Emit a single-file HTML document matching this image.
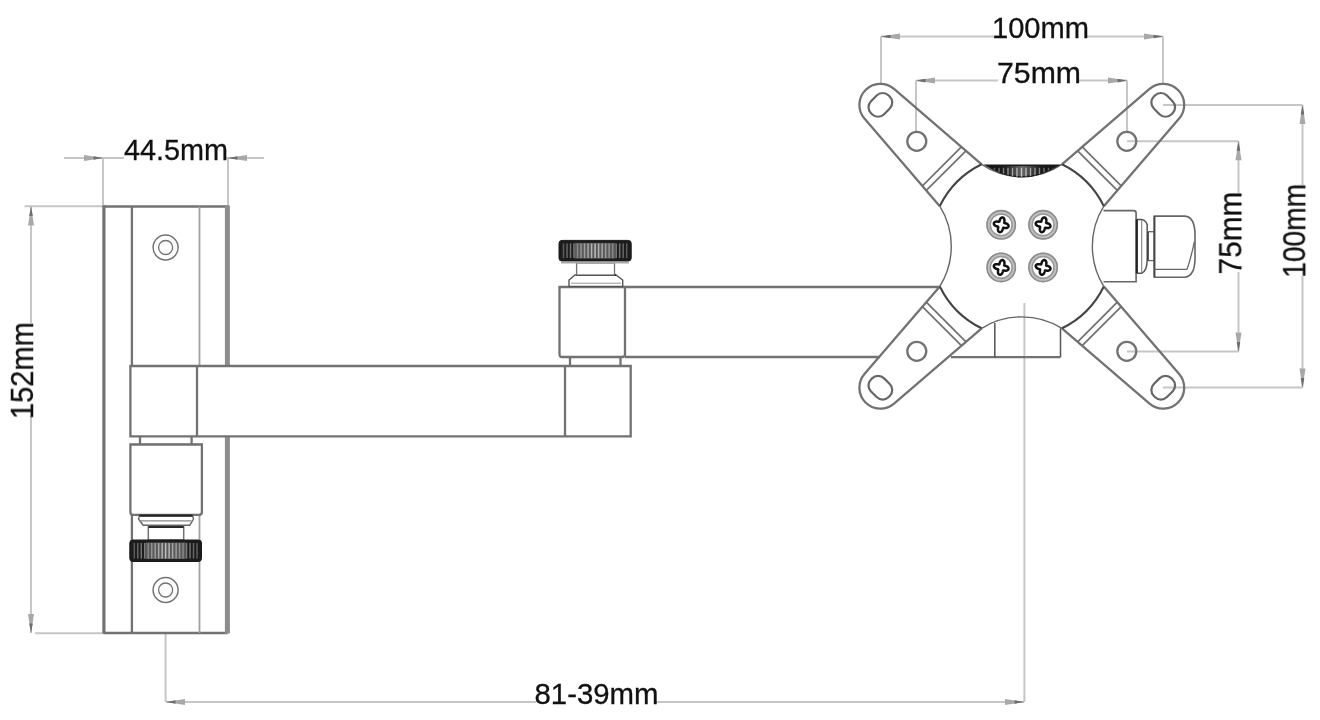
<!DOCTYPE html>
<html><head><meta charset="utf-8"><style>
html,body{margin:0;padding:0;background:#fff;}
svg{display:block;}
text{will-change:transform;}
</style></head><body>
<svg width="1320" height="720" viewBox="0 0 1320 720">
<rect width="1320" height="720" fill="#fff"/>
<line x1="64" y1="158" x2="264" y2="158" stroke="#c6c6c6" stroke-width="2.0"/>
<line x1="103" y1="158" x2="103" y2="206.5" stroke="#c6c6c6" stroke-width="2.0"/>
<line x1="228" y1="158" x2="228" y2="206.5" stroke="#c6c6c6" stroke-width="2.0"/>
<polygon points="103,158 84,161 84,155" fill="#a8a8a8"/>
<polygon points="103,158 93.5,159.8 93.5,156.2" fill="#6e6e6e"/>
<polygon points="228,158 247,155 247,161" fill="#a8a8a8"/>
<polygon points="228,158 237.5,156.2 237.5,159.8" fill="#6e6e6e"/>
<line x1="24.5" y1="206.3" x2="103" y2="206.3" stroke="#c6c6c6" stroke-width="2.0"/>
<line x1="35" y1="633.2" x2="103" y2="633.2" stroke="#c6c6c6" stroke-width="2.0"/>
<line x1="31" y1="206.5" x2="31" y2="633" stroke="#c6c6c6" stroke-width="2.0"/>
<polygon points="31,206.5 34,225.5 28,225.5" fill="#a8a8a8"/>
<polygon points="31,206.5 32.8,216 29.2,216" fill="#6e6e6e"/>
<polygon points="31,633 28,614 34,614" fill="#a8a8a8"/>
<polygon points="31,633 29.2,623.5 32.8,623.5" fill="#6e6e6e"/>
<line x1="165.6" y1="633" x2="165.6" y2="702" stroke="#c6c6c6" stroke-width="2.0"/>
<line x1="1024.4" y1="303" x2="1024.4" y2="702" stroke="#c6c6c6" stroke-width="2.0"/>
<line x1="166" y1="702" x2="1024" y2="702" stroke="#c6c6c6" stroke-width="2.0"/>
<polygon points="166,702 185,699 185,705" fill="#a8a8a8"/>
<polygon points="166,702 175.5,700.2 175.5,703.8" fill="#6e6e6e"/>
<polygon points="1024,702 1005,705 1005,699" fill="#a8a8a8"/>
<polygon points="1024,702 1014.5,703.8 1014.5,700.2" fill="#6e6e6e"/>
<line x1="881" y1="36.5" x2="1163" y2="36.5" stroke="#c6c6c6" stroke-width="2.0"/>
<line x1="881" y1="36.5" x2="881" y2="83.5" stroke="#c6c6c6" stroke-width="2.0"/>
<line x1="1163" y1="36.5" x2="1163" y2="84" stroke="#c6c6c6" stroke-width="2.0"/>
<polygon points="881,36.5 900,33.5 900,39.5" fill="#a8a8a8"/>
<polygon points="881,36.5 890.5,34.7 890.5,38.3" fill="#6e6e6e"/>
<polygon points="1163,36.5 1144,39.5 1144,33.5" fill="#a8a8a8"/>
<polygon points="1163,36.5 1153.5,38.3 1153.5,34.7" fill="#6e6e6e"/>
<line x1="916" y1="80.6" x2="1127" y2="80.6" stroke="#c6c6c6" stroke-width="2.0"/>
<line x1="916" y1="80.6" x2="916" y2="132.5" stroke="#c6c6c6" stroke-width="2.0"/>
<line x1="1127" y1="80.6" x2="1127" y2="132.5" stroke="#c6c6c6" stroke-width="2.0"/>
<polygon points="916,80.6 935,77.6 935,83.6" fill="#a8a8a8"/>
<polygon points="916,80.6 925.5,78.8 925.5,82.4" fill="#6e6e6e"/>
<polygon points="1127,80.6 1108,83.6 1108,77.6" fill="#a8a8a8"/>
<polygon points="1127,80.6 1117.5,82.4 1117.5,78.8" fill="#6e6e6e"/>
<line x1="1127" y1="141.2" x2="1238.5" y2="141.2" stroke="#c6c6c6" stroke-width="2.0"/>
<line x1="1127" y1="351.4" x2="1238.5" y2="351.4" stroke="#c6c6c6" stroke-width="2.0"/>
<line x1="1238.5" y1="141.2" x2="1238.5" y2="351.4" stroke="#c6c6c6" stroke-width="2.0"/>
<polygon points="1238.5,141.2 1241.5,160.2 1235.5,160.2" fill="#a8a8a8"/>
<polygon points="1238.5,141.2 1240.3,150.7 1236.7,150.7" fill="#6e6e6e"/>
<polygon points="1238.5,351.4 1235.5,332.4 1241.5,332.4" fill="#a8a8a8"/>
<polygon points="1238.5,351.4 1236.7,341.9 1240.3,341.9" fill="#6e6e6e"/>
<line x1="1163" y1="105" x2="1302.5" y2="105" stroke="#c6c6c6" stroke-width="2.0"/>
<line x1="1163" y1="387.6" x2="1302.5" y2="387.6" stroke="#c6c6c6" stroke-width="2.0"/>
<line x1="1302.5" y1="105" x2="1302.5" y2="387.6" stroke="#c6c6c6" stroke-width="2.0"/>
<polygon points="1302.5,105 1305.5,124 1299.5,124" fill="#a8a8a8"/>
<polygon points="1302.5,105 1304.3,114.5 1300.7,114.5" fill="#6e6e6e"/>
<polygon points="1302.5,387.6 1299.5,368.6 1305.5,368.6" fill="#a8a8a8"/>
<polygon points="1302.5,387.6 1300.7,378.1 1304.3,378.1" fill="#6e6e6e"/>
<rect x="103.5" y="206" width="124" height="427" fill="#fff" stroke="none"/>
<line x1="103.5" y1="206.5" x2="227.5" y2="206.5" stroke="#727272" stroke-width="2.3"/>
<line x1="103.5" y1="633" x2="227.5" y2="633" stroke="#727272" stroke-width="2.3"/>
<line x1="103.9" y1="205.5" x2="103.9" y2="633.5" stroke="#727272" stroke-width="3.2"/>
<line x1="227.4" y1="205.5" x2="227.4" y2="633.5" stroke="#8c8c8c" stroke-width="5.0"/>
<line x1="131.9" y1="206.5" x2="131.9" y2="366" stroke="#727272" stroke-width="2.3"/>
<line x1="131.9" y1="515" x2="131.9" y2="633" stroke="#727272" stroke-width="2.3"/>
<line x1="199.5" y1="206.5" x2="199.5" y2="366" stroke="#a0a0a0" stroke-width="1.8"/>
<line x1="199.5" y1="515" x2="199.5" y2="633" stroke="#a0a0a0" stroke-width="1.8"/>
<circle cx="165.6" cy="247.5" r="12.5" fill="none" stroke="#727272" stroke-width="1.5"/>
<circle cx="165.6" cy="247.5" r="7" fill="none" stroke="#727272" stroke-width="1.3"/>
<circle cx="165.6" cy="590" r="12.5" fill="none" stroke="#727272" stroke-width="1.5"/>
<circle cx="165.6" cy="590" r="7" fill="none" stroke="#727272" stroke-width="1.3"/>
<path d="M130.4,366 H630.7 V436.3 H130.4 Z" fill="#fff" stroke="#727272" stroke-width="2.3"/>
<line x1="197" y1="366" x2="197" y2="436.3" stroke="#727272" stroke-width="2.3"/>
<line x1="565" y1="366" x2="565" y2="436.3" stroke="#727272" stroke-width="2.3"/>
<line x1="130.4" y1="444.5" x2="201.9" y2="444.5" stroke="#777" stroke-width="1.3"/>
<line x1="140" y1="436.3" x2="140" y2="444.5" stroke="#727272" stroke-width="2.3"/>
<line x1="191.6" y1="436.3" x2="191.6" y2="444.5" stroke="#727272" stroke-width="2.3"/>
<path d="M130.4,444.5 H201.9 V512 Q201.9,514.8 199,514.8 H133 Q130.4,514.8 130.4,512 Z" fill="#fff" stroke="#727272" stroke-width="2.3"/>
<path d="M139.4,515.6 H192.6 L193.5,519 L189.8,525.2 H143.2 L138.5,519 Z" fill="#fff" stroke="#666" stroke-width="1.4"/>
<line x1="139.4" y1="515.6" x2="192.6" y2="515.6" stroke="#222" stroke-width="2.2"/>
<line x1="140" y1="520.8" x2="191.5" y2="520.8" stroke="#8a8a8a" stroke-width="1.3"/>
<rect x="148.3" y="527" width="35.4" height="13" fill="#fff" stroke="#727272" stroke-width="1.5"/>
<line x1="148.3" y1="527" x2="183.7" y2="527" stroke="#2a2a2a" stroke-width="2.2"/>
<rect x="129.8" y="540" width="71.7" height="21.5" rx="3" fill="#1c1c1c" stroke="#1a1a1a" stroke-width="1"/>
<rect x="145.57" y="542.5" width="40.15" height="16.5" fill="#5a5a5a"/>
<line x1="134.3" y1="543" x2="134.3" y2="558.5" stroke="rgb(93,93,93)" stroke-width="1.5"/>
<line x1="137.78" y1="543" x2="137.78" y2="558.5" stroke="rgb(104,104,104)" stroke-width="1.5"/>
<line x1="141.27" y1="543" x2="141.27" y2="558.5" stroke="rgb(115,115,115)" stroke-width="1.5"/>
<line x1="144.75" y1="543" x2="144.75" y2="558.5" stroke="rgb(125,125,125)" stroke-width="1.5"/>
<line x1="148.23" y1="543" x2="148.23" y2="558.5" stroke="rgb(136,136,136)" stroke-width="1.5"/>
<line x1="151.72" y1="543" x2="151.72" y2="558.5" stroke="rgb(147,147,147)" stroke-width="1.5"/>
<line x1="155.2" y1="543" x2="155.2" y2="558.5" stroke="rgb(157,157,157)" stroke-width="1.5"/>
<line x1="158.68" y1="543" x2="158.68" y2="558.5" stroke="rgb(168,168,168)" stroke-width="1.5"/>
<line x1="162.17" y1="543" x2="162.17" y2="558.5" stroke="rgb(179,179,179)" stroke-width="1.5"/>
<line x1="165.65" y1="543" x2="165.65" y2="558.5" stroke="rgb(190,190,190)" stroke-width="1.5"/>
<line x1="169.13" y1="543" x2="169.13" y2="558.5" stroke="rgb(179,179,179)" stroke-width="1.5"/>
<line x1="172.62" y1="543" x2="172.62" y2="558.5" stroke="rgb(168,168,168)" stroke-width="1.5"/>
<line x1="176.1" y1="543" x2="176.1" y2="558.5" stroke="rgb(157,157,157)" stroke-width="1.5"/>
<line x1="179.58" y1="543" x2="179.58" y2="558.5" stroke="rgb(147,147,147)" stroke-width="1.5"/>
<line x1="183.07" y1="543" x2="183.07" y2="558.5" stroke="rgb(136,136,136)" stroke-width="1.5"/>
<line x1="186.55" y1="543" x2="186.55" y2="558.5" stroke="rgb(125,125,125)" stroke-width="1.5"/>
<line x1="190.03" y1="543" x2="190.03" y2="558.5" stroke="rgb(115,115,115)" stroke-width="1.5"/>
<line x1="193.52" y1="543" x2="193.52" y2="558.5" stroke="rgb(104,104,104)" stroke-width="1.5"/>
<line x1="197" y1="543" x2="197" y2="558.5" stroke="rgb(93,93,93)" stroke-width="1.5"/>
<path d="M625,287 H940 M625,357 H880 M951,357.2 H1060" fill="none" stroke="#727272" stroke-width="2.3"/>
<path d="M559.5,287 H625 V354.5 Q625,357 622,357 H562 Q559.5,357 559.5,354.5 Z" fill="#fff" stroke="#727272" stroke-width="2.3"/>
<line x1="570" y1="357" x2="570" y2="366" stroke="#727272" stroke-width="2.3"/>
<line x1="620.5" y1="357" x2="620.5" y2="366" stroke="#727272" stroke-width="2.3"/>
<path d="M569,286.4 V280 L575,275 H616 L622.7,280 V286.4 Z" fill="#fff" stroke="#555" stroke-width="1.4"/>
<line x1="571" y1="283.2" x2="621" y2="283.2" stroke="#999" stroke-width="1.0"/>
<line x1="576" y1="275" x2="616" y2="275" stroke="#222" stroke-width="2.0"/>
<rect x="576.6" y="263" width="37.9" height="12" fill="#fff" stroke="#727272" stroke-width="1.3"/>
<rect x="559" y="240.4" width="72.2" height="20.7" rx="3" fill="#1c1c1c" stroke="#1a1a1a" stroke-width="1"/>
<rect x="574.88" y="242.9" width="40.43" height="15.7" fill="#5a5a5a"/>
<line x1="563.5" y1="243.4" x2="563.5" y2="258.1" stroke="rgb(93,93,93)" stroke-width="1.5"/>
<line x1="567.01" y1="243.4" x2="567.01" y2="258.1" stroke="rgb(104,104,104)" stroke-width="1.5"/>
<line x1="570.52" y1="243.4" x2="570.52" y2="258.1" stroke="rgb(115,115,115)" stroke-width="1.5"/>
<line x1="574.03" y1="243.4" x2="574.03" y2="258.1" stroke="rgb(125,125,125)" stroke-width="1.5"/>
<line x1="577.54" y1="243.4" x2="577.54" y2="258.1" stroke="rgb(136,136,136)" stroke-width="1.5"/>
<line x1="581.06" y1="243.4" x2="581.06" y2="258.1" stroke="rgb(147,147,147)" stroke-width="1.5"/>
<line x1="584.57" y1="243.4" x2="584.57" y2="258.1" stroke="rgb(157,157,157)" stroke-width="1.5"/>
<line x1="588.08" y1="243.4" x2="588.08" y2="258.1" stroke="rgb(168,168,168)" stroke-width="1.5"/>
<line x1="591.59" y1="243.4" x2="591.59" y2="258.1" stroke="rgb(179,179,179)" stroke-width="1.5"/>
<line x1="595.1" y1="243.4" x2="595.1" y2="258.1" stroke="rgb(190,190,190)" stroke-width="1.5"/>
<line x1="598.61" y1="243.4" x2="598.61" y2="258.1" stroke="rgb(179,179,179)" stroke-width="1.5"/>
<line x1="602.12" y1="243.4" x2="602.12" y2="258.1" stroke="rgb(168,168,168)" stroke-width="1.5"/>
<line x1="605.63" y1="243.4" x2="605.63" y2="258.1" stroke="rgb(157,157,157)" stroke-width="1.5"/>
<line x1="609.14" y1="243.4" x2="609.14" y2="258.1" stroke="rgb(147,147,147)" stroke-width="1.5"/>
<line x1="612.66" y1="243.4" x2="612.66" y2="258.1" stroke="rgb(136,136,136)" stroke-width="1.5"/>
<line x1="616.17" y1="243.4" x2="616.17" y2="258.1" stroke="rgb(125,125,125)" stroke-width="1.5"/>
<line x1="619.68" y1="243.4" x2="619.68" y2="258.1" stroke="rgb(115,115,115)" stroke-width="1.5"/>
<line x1="623.19" y1="243.4" x2="623.19" y2="258.1" stroke="rgb(104,104,104)" stroke-width="1.5"/>
<line x1="626.7" y1="243.4" x2="626.7" y2="258.1" stroke="rgb(93,93,93)" stroke-width="1.5"/>
<line x1="561" y1="262.5" x2="629" y2="262.5" stroke="#aaa" stroke-width="2.0"/>
<path d="M939.8,206.16 L864.45,118.56 A21.0,21.0 0 0 1 894.06,88.95 L981.66,164.3" fill="none" stroke="#727272" stroke-width="2.3"/>
<path d="M981.66,164.3 A91.3,91.3 0 0 0 939.8,206.16" fill="none" stroke="#444" stroke-width="2.1"/>
<line x1="926.31" y1="190.47" x2="965.97" y2="150.81" stroke="#707070" stroke-width="1.7"/>
<line x1="922.39" y1="185.9" x2="961.4" y2="146.89" stroke="#707070" stroke-width="1.7"/>
<circle cx="916.79" cy="141.29" r="9.5" fill="none" stroke="#727272" stroke-width="2.3"/>
<rect x="871.13" y="92.38" width="18.5" height="25" rx="8.5" ry="8.5" fill="none" stroke="#666" stroke-width="2.2" transform="rotate(225 880.38 104.88)"/>
<path d="M1061.94,164.3 L1149.54,88.95 A21.0,21.0 0 0 1 1179.15,118.56 L1103.8,206.16" fill="none" stroke="#727272" stroke-width="2.3"/>
<path d="M1103.8,206.16 A91.3,91.3 0 0 0 1061.94,164.3" fill="none" stroke="#444" stroke-width="2.1"/>
<line x1="1077.63" y1="150.81" x2="1117.29" y2="190.47" stroke="#707070" stroke-width="1.7"/>
<line x1="1082.2" y1="146.89" x2="1121.21" y2="185.9" stroke="#707070" stroke-width="1.7"/>
<circle cx="1126.81" cy="141.29" r="9.5" fill="none" stroke="#727272" stroke-width="2.3"/>
<rect x="1153.97" y="92.38" width="18.5" height="25" rx="8.5" ry="8.5" fill="none" stroke="#666" stroke-width="2.2" transform="rotate(315 1163.22 104.88)"/>
<path d="M1103.8,286.44 L1179.15,374.04 A21.0,21.0 0 0 1 1149.54,403.65 L1061.94,328.3" fill="none" stroke="#727272" stroke-width="2.3"/>
<path d="M1061.94,328.3 A91.3,91.3 0 0 0 1103.8,286.44" fill="none" stroke="#444" stroke-width="2.1"/>
<line x1="1117.29" y1="302.13" x2="1077.63" y2="341.79" stroke="#707070" stroke-width="1.7"/>
<line x1="1121.21" y1="306.7" x2="1082.2" y2="345.71" stroke="#707070" stroke-width="1.7"/>
<circle cx="1126.81" cy="351.31" r="9.5" fill="none" stroke="#727272" stroke-width="2.3"/>
<rect x="1153.97" y="375.22" width="18.5" height="25" rx="8.5" ry="8.5" fill="none" stroke="#666" stroke-width="2.2" transform="rotate(45 1163.22 387.72)"/>
<path d="M981.66,328.3 L894.06,403.65 A21.0,21.0 0 0 1 864.45,374.04 L939.8,286.44" fill="none" stroke="#727272" stroke-width="2.3"/>
<path d="M939.8,286.44 A91.3,91.3 0 0 0 981.66,328.3" fill="none" stroke="#444" stroke-width="2.1"/>
<line x1="965.97" y1="341.79" x2="926.31" y2="302.13" stroke="#707070" stroke-width="1.7"/>
<line x1="961.4" y1="345.71" x2="922.39" y2="306.7" stroke="#707070" stroke-width="1.7"/>
<circle cx="916.79" cy="351.31" r="9.5" fill="none" stroke="#727272" stroke-width="2.3"/>
<rect x="871.13" y="375.22" width="18.5" height="25" rx="8.5" ry="8.5" fill="none" stroke="#666" stroke-width="2.2" transform="rotate(135 880.38 387.72)"/>
<path d="M939.8,286.44 A76.0,76.0 0 0 0 939.8,206.16" fill="none" stroke="#666" stroke-width="1.4"/>
<path d="M1061.94,328.3 A76.0,76.0 0 0 0 981.66,328.3" fill="none" stroke="#666" stroke-width="1.4"/>
<path d="M1103.8,206.16 A76.0,76.0 0 0 0 1103.8,286.44" fill="none" stroke="#666" stroke-width="1.4"/>
<path d="M981.66,164.3 A72,72 0 0 0 1061.94,164.3" fill="none" stroke="#666" stroke-width="1.4"/>
<defs><clipPath id="cc"><path d="M986,165.2 L1058.5,165.2 Q1022,188.5 986,165.2 Z"/></clipPath><linearGradient id="cg" x1="0" x2="1" y1="0" y2="0"><stop offset="0" stop-color="#111"/><stop offset="0.25" stop-color="#1a1a1a"/><stop offset="0.5" stop-color="#666"/><stop offset="0.75" stop-color="#1a1a1a"/><stop offset="1" stop-color="#111"/></linearGradient></defs>
<path d="M986,165.2 L1058.5,165.2 Q1022,188.5 986,165.2 Z" fill="url(#cg)" stroke="#1a1a1a" stroke-width="1.4"/>
<g clip-path="url(#cc)">
<line x1="990" y1="167.8" x2="990" y2="180" stroke="rgb(80,80,80)" stroke-width="1.4"/>
<line x1="994.5" y1="167.8" x2="994.5" y2="180" stroke="rgb(96,96,96)" stroke-width="1.4"/>
<line x1="999" y1="167.8" x2="999" y2="180" stroke="rgb(113,113,113)" stroke-width="1.4"/>
<line x1="1003.5" y1="167.8" x2="1003.5" y2="180" stroke="rgb(130,130,130)" stroke-width="1.4"/>
<line x1="1008" y1="167.8" x2="1008" y2="180" stroke="rgb(147,147,147)" stroke-width="1.4"/>
<line x1="1012.5" y1="167.8" x2="1012.5" y2="180" stroke="rgb(164,164,164)" stroke-width="1.4"/>
<line x1="1017" y1="167.8" x2="1017" y2="180" stroke="rgb(181,181,181)" stroke-width="1.4"/>
<line x1="1021.5" y1="167.8" x2="1021.5" y2="180" stroke="rgb(198,198,198)" stroke-width="1.4"/>
<line x1="1026" y1="167.8" x2="1026" y2="180" stroke="rgb(185,185,185)" stroke-width="1.4"/>
<line x1="1030.5" y1="167.8" x2="1030.5" y2="180" stroke="rgb(168,168,168)" stroke-width="1.4"/>
<line x1="1035" y1="167.8" x2="1035" y2="180" stroke="rgb(151,151,151)" stroke-width="1.4"/>
<line x1="1039.5" y1="167.8" x2="1039.5" y2="180" stroke="rgb(134,134,134)" stroke-width="1.4"/>
<line x1="1044" y1="167.8" x2="1044" y2="180" stroke="rgb(117,117,117)" stroke-width="1.4"/>
<line x1="1048.5" y1="167.8" x2="1048.5" y2="180" stroke="rgb(100,100,100)" stroke-width="1.4"/>
<line x1="1053" y1="167.8" x2="1053" y2="180" stroke="rgb(83,83,83)" stroke-width="1.4"/>
</g>
<path d="M994.8,322.9 V357.4 M1060.5,328.3 V357.4" fill="none" stroke="#555" stroke-width="1.5"/>
<path d="M1103.5,210.6 H1133.5 Q1136.1,210.6 1136.1,213 V281.7 H1103.5" fill="#fff" stroke="#666" stroke-width="1.6"/>
<path d="M1136.7,219.4 H1141.7 Q1147.2,221 1147.2,226 V259 Q1147.2,271 1141.7,273.3 H1136.7" fill="#fff" stroke="#555" stroke-width="1.5"/>
<line x1="1136.8" y1="219.4" x2="1136.8" y2="273.3" stroke="#222" stroke-width="2.2"/>
<line x1="1141.7" y1="220" x2="1141.7" y2="273" stroke="#8a8a8a" stroke-width="1.2"/>
<rect x="1147.8" y="231.7" width="6.6" height="28.9" fill="#fff" stroke="#666" stroke-width="1.3"/>
<line x1="1147.9" y1="231.7" x2="1147.9" y2="260.6" stroke="#444" stroke-width="1.8"/>
<path d="M1154.4,216.1 H1185 Q1195,217 1195,235 V258 Q1195,276 1185,277.2 H1154.4 Z" fill="#fff" stroke="#666" stroke-width="1.6"/>
<line x1="1154.4" y1="216.1" x2="1154.4" y2="277.2" stroke="#444" stroke-width="1.8"/>
<line x1="1154.4" y1="269.4" x2="1187.2" y2="269.4" stroke="#666" stroke-width="1.4"/>
<path d="M1194.4,241.7 Q1191,258 1187,269.4" fill="none" stroke="#666" stroke-width="1.3"/>
<circle cx="1001.2" cy="224.8" r="12.6" fill="#fff" stroke="#c0c0c0" stroke-width="4.4"/>
<circle cx="1001.2" cy="224.8" r="14.2" fill="none" stroke="#8c8c8c" stroke-width="1.6"/>
<circle cx="1001.2" cy="224.8" r="10.9" fill="none" stroke="#999" stroke-width="1.5"/>
<path d="M1008.14,224.8 L1008.42,225.27 L1008.56,225.77 L1008.55,226.26 L1008.41,226.73 L1008.13,227.15 L1007.73,227.51 L1007.24,227.78 L1006.67,227.96 L1006.07,228.06 L1005.46,228.07 L1004.88,228.03 L1004.34,227.94 L1003.88,227.85 L1003.49,227.79 L1003.2,227.8 L1003.04,227.99 L1002.94,228.32 L1002.84,228.76 L1002.71,229.26 L1002.54,229.8 L1002.31,230.36 L1002,230.89 L1001.63,231.36 L1001.2,231.74 L1000.73,232.02 L1000.23,232.16 L999.74,232.15 L999.27,232.01 L998.85,231.73 L998.49,231.33 L998.22,230.84 L998.04,230.27 L997.94,229.67 L997.93,229.06 L997.97,228.48 L998.06,227.94 L998.15,227.48 L998.21,227.09 L998.2,226.8 L998.01,226.64 L997.68,226.54 L997.24,226.44 L996.74,226.31 L996.2,226.14 L995.64,225.91 L995.11,225.6 L994.64,225.23 L994.26,224.8 L993.98,224.33 L993.84,223.83 L993.85,223.34 L993.99,222.87 L994.27,222.45 L994.67,222.09 L995.16,221.82 L995.73,221.64 L996.33,221.54 L996.94,221.53 L997.52,221.57 L998.06,221.66 L998.52,221.75 L998.91,221.81 L999.2,221.8 L999.36,221.61 L999.46,221.28 L999.56,220.84 L999.69,220.34 L999.86,219.8 L1000.09,219.24 L1000.4,218.71 L1000.77,218.24 L1001.2,217.86 L1001.67,217.58 L1002.17,217.44 L1002.66,217.45 L1003.13,217.59 L1003.55,217.87 L1003.91,218.27 L1004.18,218.76 L1004.36,219.33 L1004.46,219.93 L1004.47,220.54 L1004.43,221.12 L1004.34,221.66 L1004.25,222.12 L1004.19,222.51 L1004.2,222.8 L1004.39,222.96 L1004.72,223.06 L1005.16,223.16 L1005.66,223.29 L1006.2,223.46 L1006.76,223.69 L1007.29,224 L1007.76,224.37Z" fill="#fff" stroke="#111" stroke-width="2.5" stroke-linejoin="round"/>
<circle cx="1001.2" cy="267.4" r="12.6" fill="#fff" stroke="#c0c0c0" stroke-width="4.4"/>
<circle cx="1001.2" cy="267.4" r="14.2" fill="none" stroke="#8c8c8c" stroke-width="1.6"/>
<circle cx="1001.2" cy="267.4" r="10.9" fill="none" stroke="#999" stroke-width="1.5"/>
<path d="M1008.14,267.4 L1008.42,267.87 L1008.56,268.37 L1008.55,268.86 L1008.41,269.33 L1008.13,269.75 L1007.73,270.11 L1007.24,270.38 L1006.67,270.56 L1006.07,270.66 L1005.46,270.67 L1004.88,270.63 L1004.34,270.54 L1003.88,270.45 L1003.49,270.39 L1003.2,270.4 L1003.04,270.59 L1002.94,270.92 L1002.84,271.36 L1002.71,271.86 L1002.54,272.4 L1002.31,272.96 L1002,273.49 L1001.63,273.96 L1001.2,274.34 L1000.73,274.62 L1000.23,274.76 L999.74,274.75 L999.27,274.61 L998.85,274.33 L998.49,273.93 L998.22,273.44 L998.04,272.87 L997.94,272.27 L997.93,271.66 L997.97,271.08 L998.06,270.54 L998.15,270.08 L998.21,269.69 L998.2,269.4 L998.01,269.24 L997.68,269.14 L997.24,269.04 L996.74,268.91 L996.2,268.74 L995.64,268.51 L995.11,268.2 L994.64,267.83 L994.26,267.4 L993.98,266.93 L993.84,266.43 L993.85,265.94 L993.99,265.47 L994.27,265.05 L994.67,264.69 L995.16,264.42 L995.73,264.24 L996.33,264.14 L996.94,264.13 L997.52,264.17 L998.06,264.26 L998.52,264.35 L998.91,264.41 L999.2,264.4 L999.36,264.21 L999.46,263.88 L999.56,263.44 L999.69,262.94 L999.86,262.4 L1000.09,261.84 L1000.4,261.31 L1000.77,260.84 L1001.2,260.46 L1001.67,260.18 L1002.17,260.04 L1002.66,260.05 L1003.13,260.19 L1003.55,260.47 L1003.91,260.87 L1004.18,261.36 L1004.36,261.93 L1004.46,262.53 L1004.47,263.14 L1004.43,263.72 L1004.34,264.26 L1004.25,264.72 L1004.19,265.11 L1004.2,265.4 L1004.39,265.56 L1004.72,265.66 L1005.16,265.76 L1005.66,265.89 L1006.2,266.06 L1006.76,266.29 L1007.29,266.6 L1007.76,266.97Z" fill="#fff" stroke="#111" stroke-width="2.5" stroke-linejoin="round"/>
<circle cx="1043.1" cy="224.8" r="12.6" fill="#fff" stroke="#c0c0c0" stroke-width="4.4"/>
<circle cx="1043.1" cy="224.8" r="14.2" fill="none" stroke="#8c8c8c" stroke-width="1.6"/>
<circle cx="1043.1" cy="224.8" r="10.9" fill="none" stroke="#999" stroke-width="1.5"/>
<path d="M1050.04,224.8 L1050.32,225.27 L1050.46,225.77 L1050.45,226.26 L1050.31,226.73 L1050.03,227.15 L1049.63,227.51 L1049.14,227.78 L1048.57,227.96 L1047.97,228.06 L1047.36,228.07 L1046.78,228.03 L1046.24,227.94 L1045.78,227.85 L1045.39,227.79 L1045.1,227.8 L1044.94,227.99 L1044.84,228.32 L1044.74,228.76 L1044.61,229.26 L1044.44,229.8 L1044.21,230.36 L1043.9,230.89 L1043.53,231.36 L1043.1,231.74 L1042.63,232.02 L1042.13,232.16 L1041.64,232.15 L1041.17,232.01 L1040.75,231.73 L1040.39,231.33 L1040.12,230.84 L1039.94,230.27 L1039.84,229.67 L1039.83,229.06 L1039.87,228.48 L1039.96,227.94 L1040.05,227.48 L1040.11,227.09 L1040.1,226.8 L1039.91,226.64 L1039.58,226.54 L1039.14,226.44 L1038.64,226.31 L1038.1,226.14 L1037.54,225.91 L1037.01,225.6 L1036.54,225.23 L1036.16,224.8 L1035.88,224.33 L1035.74,223.83 L1035.75,223.34 L1035.89,222.87 L1036.17,222.45 L1036.57,222.09 L1037.06,221.82 L1037.63,221.64 L1038.23,221.54 L1038.84,221.53 L1039.42,221.57 L1039.96,221.66 L1040.42,221.75 L1040.81,221.81 L1041.1,221.8 L1041.26,221.61 L1041.36,221.28 L1041.46,220.84 L1041.59,220.34 L1041.76,219.8 L1041.99,219.24 L1042.3,218.71 L1042.67,218.24 L1043.1,217.86 L1043.57,217.58 L1044.07,217.44 L1044.56,217.45 L1045.03,217.59 L1045.45,217.87 L1045.81,218.27 L1046.08,218.76 L1046.26,219.33 L1046.36,219.93 L1046.37,220.54 L1046.33,221.12 L1046.24,221.66 L1046.15,222.12 L1046.09,222.51 L1046.1,222.8 L1046.29,222.96 L1046.62,223.06 L1047.06,223.16 L1047.56,223.29 L1048.1,223.46 L1048.66,223.69 L1049.19,224 L1049.66,224.37Z" fill="#fff" stroke="#111" stroke-width="2.5" stroke-linejoin="round"/>
<circle cx="1043.1" cy="267.4" r="12.6" fill="#fff" stroke="#c0c0c0" stroke-width="4.4"/>
<circle cx="1043.1" cy="267.4" r="14.2" fill="none" stroke="#8c8c8c" stroke-width="1.6"/>
<circle cx="1043.1" cy="267.4" r="10.9" fill="none" stroke="#999" stroke-width="1.5"/>
<path d="M1050.04,267.4 L1050.32,267.87 L1050.46,268.37 L1050.45,268.86 L1050.31,269.33 L1050.03,269.75 L1049.63,270.11 L1049.14,270.38 L1048.57,270.56 L1047.97,270.66 L1047.36,270.67 L1046.78,270.63 L1046.24,270.54 L1045.78,270.45 L1045.39,270.39 L1045.1,270.4 L1044.94,270.59 L1044.84,270.92 L1044.74,271.36 L1044.61,271.86 L1044.44,272.4 L1044.21,272.96 L1043.9,273.49 L1043.53,273.96 L1043.1,274.34 L1042.63,274.62 L1042.13,274.76 L1041.64,274.75 L1041.17,274.61 L1040.75,274.33 L1040.39,273.93 L1040.12,273.44 L1039.94,272.87 L1039.84,272.27 L1039.83,271.66 L1039.87,271.08 L1039.96,270.54 L1040.05,270.08 L1040.11,269.69 L1040.1,269.4 L1039.91,269.24 L1039.58,269.14 L1039.14,269.04 L1038.64,268.91 L1038.1,268.74 L1037.54,268.51 L1037.01,268.2 L1036.54,267.83 L1036.16,267.4 L1035.88,266.93 L1035.74,266.43 L1035.75,265.94 L1035.89,265.47 L1036.17,265.05 L1036.57,264.69 L1037.06,264.42 L1037.63,264.24 L1038.23,264.14 L1038.84,264.13 L1039.42,264.17 L1039.96,264.26 L1040.42,264.35 L1040.81,264.41 L1041.1,264.4 L1041.26,264.21 L1041.36,263.88 L1041.46,263.44 L1041.59,262.94 L1041.76,262.4 L1041.99,261.84 L1042.3,261.31 L1042.67,260.84 L1043.1,260.46 L1043.57,260.18 L1044.07,260.04 L1044.56,260.05 L1045.03,260.19 L1045.45,260.47 L1045.81,260.87 L1046.08,261.36 L1046.26,261.93 L1046.36,262.53 L1046.37,263.14 L1046.33,263.72 L1046.24,264.26 L1046.15,264.72 L1046.09,265.11 L1046.1,265.4 L1046.29,265.56 L1046.62,265.66 L1047.06,265.76 L1047.56,265.89 L1048.1,266.06 L1048.66,266.29 L1049.19,266.6 L1049.66,266.97Z" fill="#fff" stroke="#111" stroke-width="2.5" stroke-linejoin="round"/>
<rect x="124" y="154" width="102" height="8" fill="#fff"/>
<rect x="994" y="32" width="93" height="8" fill="#fff"/>
<rect x="998" y="76" width="81" height="9" fill="#fff"/>
<rect x="536" y="698" width="120" height="8" fill="#fff"/>
<rect x="27" y="323" width="8" height="93" fill="#fff"/>
<rect x="1234" y="193" width="9" height="79" fill="#fff"/>
<rect x="1298" y="185" width="9" height="91" fill="#fff"/>
<text x="176" y="160" text-anchor="middle" font-family="Liberation Sans, sans-serif" font-size="29" fill="#111" stroke="#111" stroke-width="0.3" textLength="104" lengthAdjust="spacingAndGlyphs">44.5mm</text>
<text x="1040.5" y="37.5" text-anchor="middle" font-family="Liberation Sans, sans-serif" font-size="29" fill="#111" stroke="#111" stroke-width="0.3" textLength="97" lengthAdjust="spacingAndGlyphs">100mm</text>
<text x="1039" y="82.8" text-anchor="middle" font-family="Liberation Sans, sans-serif" font-size="29" fill="#111" stroke="#111" stroke-width="0.3" textLength="84" lengthAdjust="spacingAndGlyphs">75mm</text>
<text x="596.5" y="703.8" text-anchor="middle" font-family="Liberation Sans, sans-serif" font-size="29" fill="#111" stroke="#111" stroke-width="0.3" textLength="124" lengthAdjust="spacingAndGlyphs">81-39mm</text>
<text x="0" y="0" transform="translate(33 370.6) rotate(-90)" text-anchor="middle" font-family="Liberation Sans, sans-serif" font-size="31" fill="#111" stroke="#111" stroke-width="0.3" textLength="97" lengthAdjust="spacingAndGlyphs">152mm</text>
<text x="0" y="0" transform="translate(1241.3 233) rotate(-90)" text-anchor="middle" font-family="Liberation Sans, sans-serif" font-size="31" fill="#111" stroke="#111" stroke-width="0.3" textLength="82.8" lengthAdjust="spacingAndGlyphs">75mm</text>
<text x="0" y="0" transform="translate(1305.2 230.8) rotate(-90)" text-anchor="middle" font-family="Liberation Sans, sans-serif" font-size="31" fill="#111" stroke="#111" stroke-width="0.3" textLength="94" lengthAdjust="spacingAndGlyphs">100mm</text>
</svg>
</body></html>
